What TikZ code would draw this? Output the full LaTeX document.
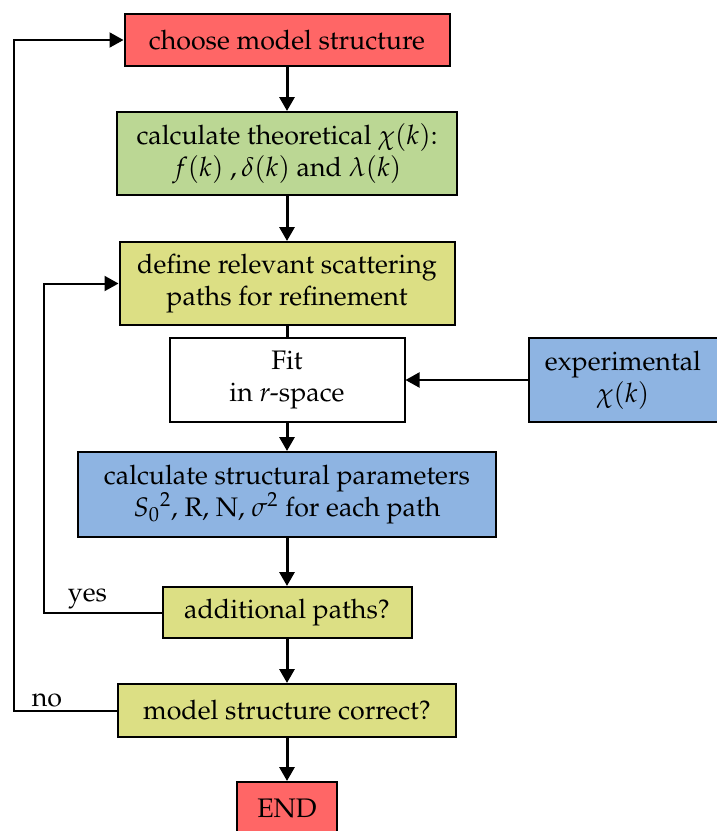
\documentclass[tikz,border=0pt]{standalone}
\usepackage[T1]{fontenc}
\usepackage{mathpazo}
\usetikzlibrary{arrows.meta,positioning}
\definecolor{startred}{RGB}{255,102,102}
\definecolor{calcgreen}{RGB}{187,215,148}
\definecolor{pathyellow}{RGB}{220,223,132}
\definecolor{datablue}{RGB}{142,180,226}
\tikzset{
  box/.style={draw=black,line width=1pt,align=center,inner sep=2pt,font=\fontsize{13.4}{16}\selectfont},
  arr/.style={-{Triangle[length=7pt,width=7.5pt]},line width=1.5pt},
  back/.style={-{Triangle[length=7pt,width=7.5pt]},line width=1pt},
  lab/.style={font=\fontsize{13.4}{16}\selectfont,inner sep=1pt}
}
\begin{document}
\begin{tikzpicture}[node distance=22pt]
  \useasboundingbox (0,0) rectangle (358.5pt,-415.5pt);
  % main column
  \node[box,fill=startred,minimum width=162.5pt,minimum height=26pt] (choose) at (143.5pt,-20pt) {choose model structure};
  \node[box,fill=calcgreen,minimum width=170pt,minimum height=41.5pt,below=of choose] (theory) {calculate theoretical $\chi(k)$:\\$f(k)$ ,$\,\delta(k)$ and $\lambda(k)$};
  \node[box,fill=pathyellow,minimum width=167.5pt,minimum height=41.5pt,below=22.5pt of theory] (paths) {define relevant scattering\\paths for refinement};
  \node[box,fill=white,minimum width=117.5pt,minimum height=42pt,below=5.5pt of paths] (fit) {Fit\\in \textit{r}-space};
  \node[box,fill=datablue,minimum width=94.5pt,minimum height=42pt,right=61pt of fit] (exp) {experimental\\$\chi(k)$};
  \node[box,fill=datablue,minimum width=209pt,minimum height=42.5pt,below=14pt of fit] (params) {calculate structural parameters\\$S_0{}^2$, R, N, $\sigma^2$ for each path};
  \node[box,fill=pathyellow,minimum width=124.5pt,minimum height=25.5pt,below=24pt of params] (more) {additional paths?};
  \node[box,fill=pathyellow,minimum width=169pt,minimum height=26.5pt,below=of more] (correct) {model structure correct?};
  \node[box,fill=startred,minimum width=50pt,minimum height=26pt,below=21.5pt of correct] (end) {END};
  % loop columns
  \coordinate (outer) at (7pt,0);
  \coordinate (inner) at (22pt,0);

  \draw[arr] (choose) -- (theory);
  \draw[arr] (theory) -- (paths);
  \draw[line width=1.5pt] (paths) -- (fit);
  \draw[arr] (fit) -- (params);
  \draw[back] (exp) -- (fit);
  \draw[arr] (params) -- (more);
  \draw[arr] (more) -- (correct);
  \draw[arr] (correct) -- (end);
  \draw[back] (more.west) -- node[lab,above,pos=0.63]{yes} (more.west -| inner) |- (paths.west);
  \draw[back] (correct.west) -- node[lab,above,pos=0.68]{no} (correct.west -| outer) |- (choose.west);
\end{tikzpicture}
\end{document}
